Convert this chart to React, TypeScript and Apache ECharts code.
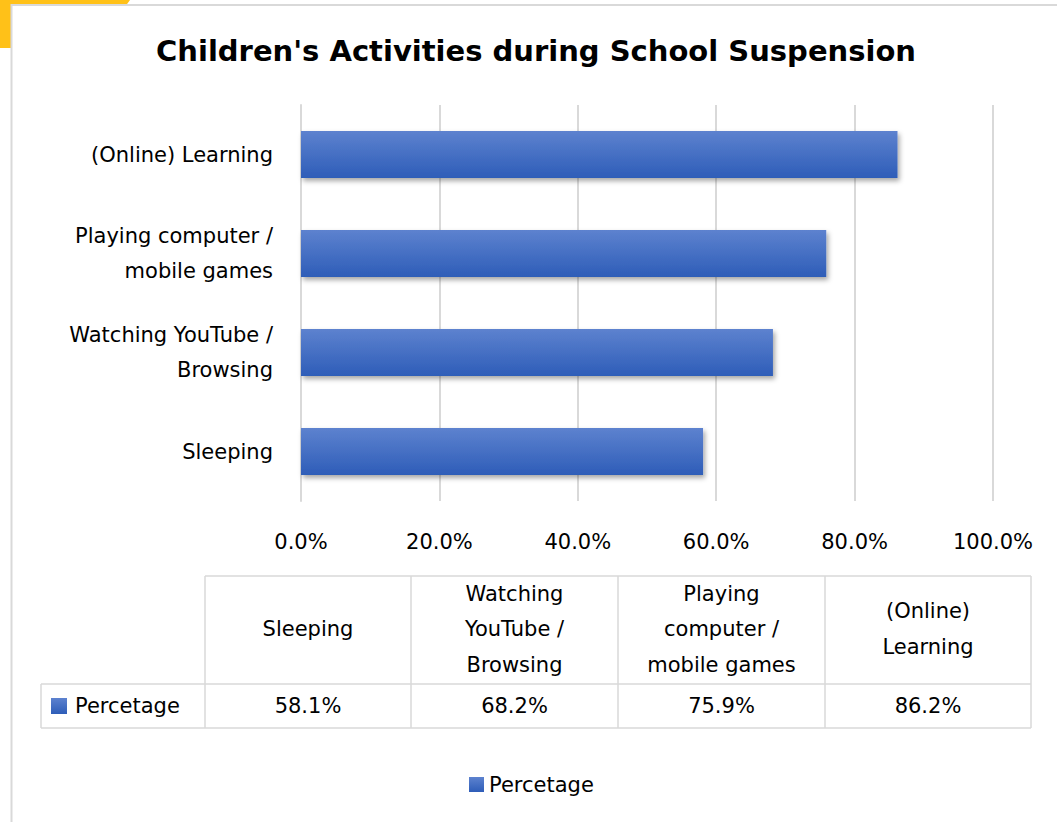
import React, { useEffect, useRef } from "react";
import * as echarts from "echarts";

const seriesName = "Percetage";
const categories = [
  "Sleeping",
  "Watching YouTube / Browsing",
  "Playing computer / mobile games",
  "(Online) Learning",
];
const values = [58.1, 68.2, 75.9, 86.2];
const axisLabels = [
  "Sleeping",
  "Watching YouTube /\nBrowsing",
  "Playing computer /\nmobile games",
  "(Online) Learning",
];
const tableHeaders = [
  "Sleeping",
  "Watching\nYouTube /\nBrowsing",
  "Playing\ncomputer /\nmobile games",
  "(Online)\nLearning",
];
const xMin = 0;
const xMax = 100;
const xStep = 20;

const FONT = "'DejaVu Sans', sans-serif";
const FS = 21;
const GRID_COLOR = "#d9d9d9";

export default function App() {
  const ref = useRef<HTMLDivElement>(null);

  useEffect(() => {
    if (!ref.current) return;
    const chart = echarts.init(ref.current, undefined, { renderer: "svg" });

    const barGradient = new echarts.graphic.LinearGradient(0, 0, 0, 1, [
      { offset: 0, color: "#5d82cf" },
      { offset: 1, color: "#2e5db8" },
    ]);

    // table geometry
    const colX = [205, 411, 618, 825, 1031];
    const tableLeft = 41;
    const headTop = 576;
    const rowTop = 684;
    const rowBottom = 728;
    const line = (x1: number, y1: number, x2: number, y2: number) => ({
      type: "line",
      shape: { x1, y1, x2, y2 },
      style: { stroke: GRID_COLOR, lineWidth: 1.5 },
    });

    const tableEls: any[] = [];
    tableEls.push(line(colX[0], headTop, colX[4], headTop));
    tableEls.push(line(tableLeft, rowTop, colX[4], rowTop));
    tableEls.push(line(tableLeft, rowBottom, colX[4], rowBottom));
    tableEls.push(line(tableLeft, rowTop, tableLeft, rowBottom));
    colX.forEach((x) => tableEls.push(line(x, headTop, x, rowBottom)));
    categories.forEach((_, i) => {
      const cx = (colX[i] + colX[i + 1]) / 2;
      tableEls.push({
        type: "text",
        x: cx,
        y: (headTop + rowTop) / 2 - 1,
        style: {
          text: tableHeaders[i],
          fill: "#000",
          fontSize: FS,
          fontFamily: FONT,
          lineHeight: 35.5,
          align: "center",
          verticalAlign: "middle",
        },
      });
      tableEls.push({
        type: "text",
        x: cx,
        y: (rowTop + rowBottom) / 2,
        style: {
          text: values[i].toFixed(1) + "%",
          fill: "#000",
          fontSize: FS,
          fontFamily: FONT,
          align: "center",
          verticalAlign: "middle",
        },
      });
    });
    tableEls.push({
      type: "rect",
      shape: { x: 51, y: 698, width: 16, height: 16 },
      style: { fill: barGradient },
    });
    tableEls.push({
      type: "text",
      x: 75,
      y: (rowTop + rowBottom) / 2,
      style: {
        text: seriesName,
        fill: "#000",
        fontSize: FS,
        fontFamily: FONT,
        align: "left",
        verticalAlign: "middle",
      },
    });

    chart.setOption({
      animation: false,
      backgroundColor: "#ffffff",
      title: {
        text: "Children's Activities during School Suspension",
        left: 531,
        top: 31,
        textAlign: "center",
        textStyle: {
          fontFamily: FONT,
          fontWeight: "bold",
          fontSize: 29,
          color: "#000",
        },
      },
      legend: {
        data: [seriesName],
        left: 464,
        top: 769,
        icon: "rect",
        itemWidth: 15,
        itemHeight: 15,
        itemGap: 8,
        textStyle: { fontFamily: FONT, fontSize: FS, color: "#000" },
      },
      grid: { left: 301, right: 64, top: 105, bottom: 321, containLabel: false },
      xAxis: {
        type: "value",
        min: xMin,
        max: xMax,
        interval: xStep,
        axisLine: { show: false },
        axisTick: { show: false },
        splitLine: { show: true, lineStyle: { color: GRID_COLOR, width: 2 } },
        axisLabel: {
          margin: 30,
          fontFamily: FONT,
          fontSize: FS,
          color: "#000",
          formatter: (v: number) => v.toFixed(1) + "%",
        },
      },
      yAxis: {
        type: "category",
        data: categories,
        axisLine: { show: true, lineStyle: { color: GRID_COLOR, width: 2 } },
        axisTick: { show: false },
        axisLabel: {
          margin: 28,
          fontFamily: FONT,
          fontSize: FS,
          color: "#000",
          lineHeight: 35,
          formatter: (_: string, i: number) => axisLabels[i],
        },
      },
      series: [
        {
          name: seriesName,
          type: "bar",
          data: values,
          barWidth: 47,
          itemStyle: {
            color: barGradient,
            shadowColor: "rgba(0,0,0,0.35)",
            shadowBlur: 5,
            shadowOffsetX: 2,
            shadowOffsetY: 3,
          },
        },
      ],
      graphic: [
        {
          type: "polygon",
          z: -2,
          shape: { points: [[0, 0], [130, 0], [95, 48], [0, 48]] },
          style: { fill: "#ffc118" },
        },
        {
          type: "rect",
          z: -1,
          shape: { x: 11.5, y: 5, width: 1200, height: 1000 },
          style: { fill: "#ffffff", stroke: GRID_COLOR, lineWidth: 2 },
        },
        ...tableEls,
      ],
    });

    return () => chart.dispose();
  }, []);

  return (
    <div
      ref={ref}
      style={{ position: "absolute", left: 0, top: 0, width: 1057, height: 822 }}
    />
  );
}
